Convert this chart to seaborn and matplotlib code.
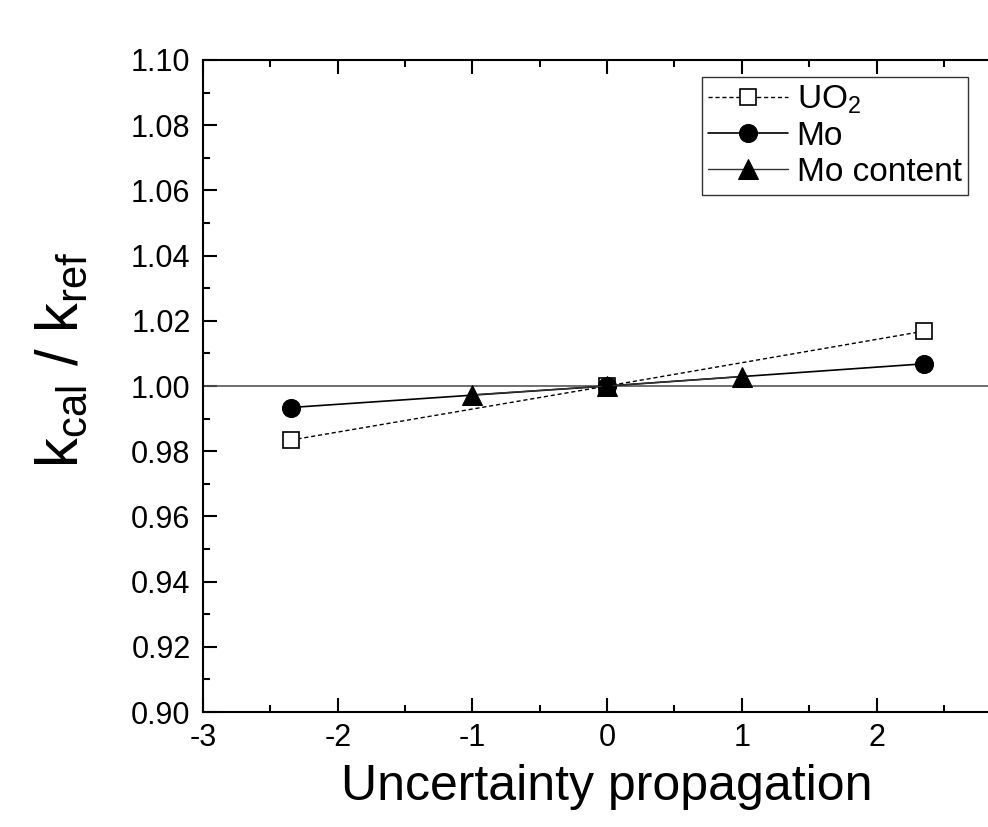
import numpy as np
import pandas as pd
import matplotlib
matplotlib.use("Agg")
import matplotlib.pyplot as plt
import seaborn as sns
from matplotlib.ticker import MultipleLocator, FixedLocator, FormatStrFormatter

# data
x_uo2 = [-2.35, 0.0, 2.35]
y_uo2 = [0.9834, 1.0, 1.0168]
x_mo = [-2.35, 0.0, 2.35]
y_mo = [0.9934, 1.0, 1.0068]
x_moc = [-1.0, 0.0, 1.0]
y_moc = [0.9973, 1.0, 1.0029]
x_major = [-3, -2, -1, 0, 1, 2]

sns.set_style("ticks")
plt.rcParams["font.family"] = ["Liberation Sans", "DejaVu Sans"]
plt.rcParams["mathtext.default"] = "regular"
plt.rcParams["axes.unicode_minus"] = False
plt.rcParams["text.color"] = "black"
plt.rcParams["axes.labelcolor"] = "black"
plt.rcParams["xtick.color"] = "black"
plt.rcParams["ytick.color"] = "black"

fig = plt.figure(figsize=(9.88, 8.27), dpi=100)
ax = fig.add_axes([0.2055, 0.139, 0.818, 0.7885])

ax.axhline(1.0, color="#555555", lw=1.2, zorder=1)

sns.lineplot(x=x_uo2, y=y_uo2, ax=ax, color="black", lw=1, linestyle=(0, (3, 2)),
             marker="s", markersize=11, markerfacecolor="white", markeredgecolor="black",
             markeredgewidth=1.2, label="UO$_2$", zorder=3)
sns.lineplot(x=x_mo, y=y_mo, ax=ax, color="black", lw=1.2, marker="o", markersize=13,
             markerfacecolor="black", markeredgecolor="black", label="Mo", zorder=3)
sns.lineplot(x=x_moc, y=y_moc, ax=ax, color="#333333", lw=1, marker="^", markersize=14,
             markerfacecolor="black", markeredgecolor="black", label="Mo content", zorder=4)

ax.set_xlim(-3, 3)
ax.set_ylim(0.90, 1.10)
ax.xaxis.set_major_locator(FixedLocator(x_major))
ax.xaxis.set_minor_locator(MultipleLocator(0.5))
ax.yaxis.set_major_locator(MultipleLocator(0.02))
ax.yaxis.set_minor_locator(MultipleLocator(0.01))
ax.yaxis.set_major_formatter(FormatStrFormatter("%.2f"))

ax.tick_params(which="both", direction="in", top=True, right=True, width=1.5,
               colors="black", labelcolor="black")
ax.tick_params(which="major", length=10, labelsize=22)
ax.tick_params(axis="y", which="major", pad=9)
ax.tick_params(axis="x", which="major", pad=8)
ax.tick_params(which="minor", length=5)
for s in ax.spines.values():
    s.set_linewidth(1.5)
    s.set_color("black")

ax.set_xlabel("Uncertainty propagation", fontsize=36, labelpad=8, color="black")
ax.set_ylabel("k$_{cal}$ / k$_{ref}$", fontsize=43, color="black")
ax.yaxis.set_label_coords(-0.14, 0.54)

leg = ax.legend(loc="upper left", bbox_to_anchor=(0.617, 0.974), fontsize=24, frameon=True,
                fancybox=False, edgecolor="black", handlelength=2.4, handletextpad=0.25,
                borderpad=0.2, labelspacing=0.15, borderaxespad=0)
leg.get_frame().set_linewidth(1.0)
for t in leg.get_texts():
    t.set_color("black")

fig.savefig("out.png", dpi=100)
